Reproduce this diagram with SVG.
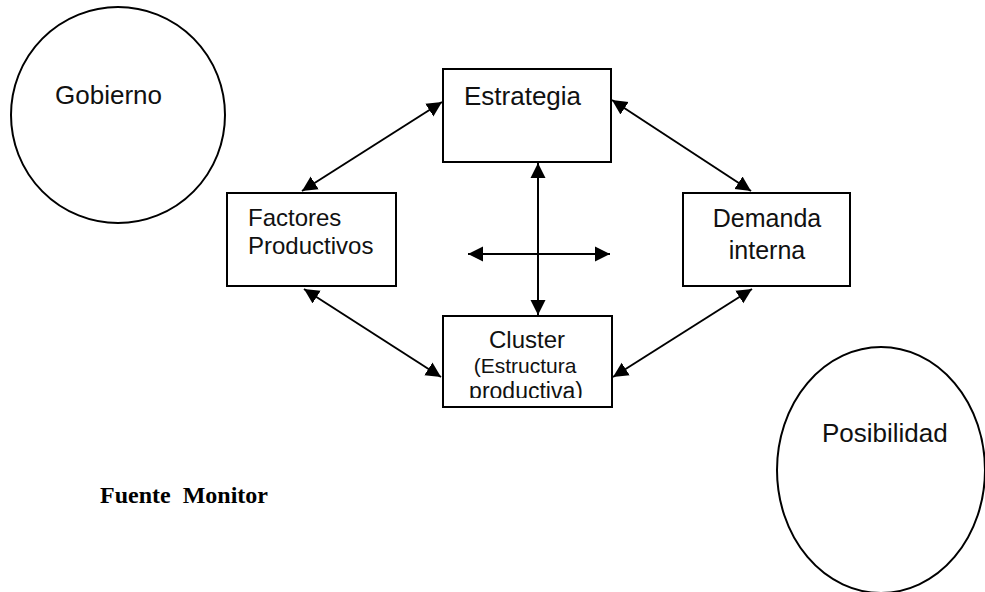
<svg xmlns="http://www.w3.org/2000/svg" width="985" height="592" viewBox="0 0 985 592">
<style>
.shape{fill:#fff;stroke:#000;stroke-width:2}
.t{font-family:"Liberation Sans",Arial,sans-serif;fill:#111}
.c{stroke:#000;stroke-width:2;fill:none;marker-start:url(#ah);marker-end:url(#ah)}
</style>
<defs>
<marker id="ah" markerUnits="userSpaceOnUse" markerWidth="16" markerHeight="16" viewBox="0 0 16 16" refX="15" refY="8" orient="auto-start-reverse">
<path d="M0,0.5 L15,8 L0,15.5 z" fill="#000"/>
</marker>
<clipPath id="clip"><rect x="443" y="316" width="170" height="82"/></clipPath>
</defs>
<rect width="985" height="592" fill="#fff"/>
<g id="gobierno">
<ellipse class="shape" cx="118" cy="115" rx="107" ry="108"/>
<text class="t" x="55" y="104" font-size="26">Gobierno</text>
</g>
<g id="posibilidad">
<ellipse class="shape" cx="881" cy="470" rx="104" ry="123"/>
<text class="t" x="822" y="442" font-size="26">Posibilidad</text>
</g>
<g id="estrategia">
<rect class="shape" x="443" y="69" width="168" height="93"/>
<text class="t" x="464" y="105" font-size="26">Estrategia</text>
</g>
<g id="factores">
<rect class="shape" x="227" y="193" width="169" height="93"/>
<text class="t" x="248" y="226" font-size="24">Factores</text>
<text class="t" x="248" y="254" font-size="24">Productivos</text>
</g>
<g id="demanda">
<rect class="shape" x="683" y="193" width="167" height="93"/>
<text class="t" x="767" y="227" font-size="25" text-anchor="middle">Demanda</text>
<text class="t" x="767" y="259" font-size="25" text-anchor="middle">interna</text>
</g>
<g id="cluster">
<rect class="shape" x="443" y="316" width="169" height="91"/>
<g clip-path="url(#clip)">
<text class="t" x="527" y="348" font-size="24" text-anchor="middle">Cluster</text>
<text class="t" x="525" y="373" font-size="21" text-anchor="middle">(Estructura</text>
<text class="t" x="526" y="399" font-size="23" text-anchor="middle">productiva)</text>
</g>
</g>
<g id="connectors">
<line class="c" x1="302" y1="191" x2="442" y2="102"/>
<line class="c" x1="612" y1="100" x2="751" y2="191"/>
<line class="c" x1="304" y1="289" x2="441" y2="377"/>
<line class="c" x1="752" y1="289" x2="613" y2="377"/>
<line class="c" x1="538" y1="163" x2="538" y2="315"/>
<line class="c" x1="468" y1="254" x2="610" y2="254"/>
</g>
<g id="fuente">
<text x="100" y="503" font-family="Liberation Serif,'Times New Roman',serif" font-weight="bold" font-size="24" fill="#000" style="white-space:pre">Fuente  Monitor</text>
</g>
</svg>
